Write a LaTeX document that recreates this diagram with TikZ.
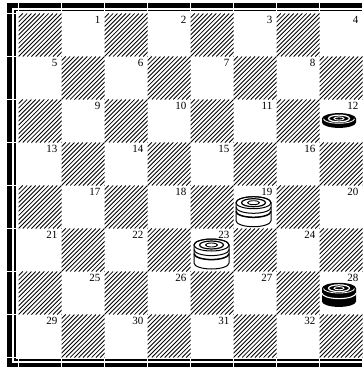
\documentclass[tikz,border=0pt]{standalone}
\usepackage{fontspec}
\setmainfont{Liberation Serif}
\tikzset{
  hatch/.style={line width=0.85pt,black},
  lbl/.style={anchor=north east,inner sep=0pt,font=\fontsize{11}{11}\selectfont},
  tick/.style={white,line width=0.6pt},
}
% white king: #1 = x, #2 = y of top face centre
\newcommand\wkingpiece[2]{%
  \begin{scope}[shift={(#1,#2)}]
    \filldraw[fill=white,draw=black,line width=1pt]
      (-17.5,0) -- (-17.5,18) arc[start angle=180,end angle=0,x radius=17.5,y radius=6]
      -- (17.5,0) arc[start angle=0,end angle=-180,x radius=17.5,y radius=6] -- cycle;
    \draw[line width=1pt] (0,0) ellipse[x radius=17.5,y radius=6];
    \draw[line width=1.2pt] (0,0) ellipse[x radius=12,y radius=4];
    \draw[line width=0.9pt] (0,0) ellipse[x radius=6,y radius=2];
    \draw[line width=1pt] (-17.5,4.6) arc[start angle=180,end angle=0,x radius=17.5,y radius=6];
    \draw[line width=1.5pt] (-17.5,8.6) arc[start angle=180,end angle=0,x radius=17.5,y radius=6];
  \end{scope}}
% black piece: #1 = x, #2 = y, #3 = side height, #4 = king (1) or not (0)
\newcommand\bpiece[4]{%
  \begin{scope}[shift={(#1,#2)}]
    \fill[black]
      (-17,0) -- (-17,#3) arc[start angle=180,end angle=0,x radius=17,y radius=5.4]
      -- (17,0) arc[start angle=0,end angle=-180,x radius=17,y radius=5.4] -- cycle;
    \draw[white,line width=0.8pt] (-15.5,0.3) arc[start angle=180,end angle=0,x radius=15.5,y radius=4.5];
    \draw[white,line width=1.2pt] (0,0) ellipse[x radius=10.5,y radius=3.4];
    \draw[white,line width=0.9pt] (0,0) ellipse[x radius=5,y radius=1.6];
    \ifnum#4=1
      \draw[white,line width=1.1pt] (-17,5) arc[start angle=180,end angle=0,x radius=17,y radius=5.4];
    \fi
  \end{scope}}
\begin{document}
\begin{tikzpicture}[x=1pt,y=-1pt]
\useasboundingbox (0,0) rectangle (363,367);
\fill[white] (0,0) rectangle (363,367);
% dark squares
\foreach \r in {0,...,7}{
  \foreach \c in {0,...,7}{
    \pgfmathtruncatemacro\isdark{1-mod(\r+\c,2)}
    \pgfmathsetmacro\xa{18.5+43*\c}
    \pgfmathsetmacro\ya{13.5+43*\r}
    \ifnum\isdark=1
      \begin{scope}
        \clip (\xa,\ya) rectangle ++(43,43);
        \foreach \d in {-10,...,10}
          \draw[hatch] (\xa+\d*4.3,\ya+43) -- ++(43,-43);
      \end{scope}
    \fi
  }
}
% frame
\draw[line width=5pt,line join=miter] (363,5.5) -- (9.5,5.5) -- (9.5,365) -- (363,365);
\draw[line width=1.2pt,line join=miter] (363,10.8) -- (15,10.8) -- (15,360) -- (363,360);
\foreach \k in {0,...,8}{
  \draw[tick] (5,13.5+43*\k) -- (17.5,13.5+43*\k);
  \draw[tick] (18.5+43*\k,2) -- (18.5+43*\k,12);
  \draw[tick] (18.5+43*\k,358.5) -- (18.5+43*\k,368);
}
% pieces
\bpiece{339}{118.5}{4}{0}
\bpiece{339}{288.2}{13.3}{1}
\wkingpiece{253.5}{202.7}
\wkingpiece{211.5}{245}
% square numbers
\foreach \r in {0,...,7}{
  \foreach \c in {0,...,7}{
    \pgfmathtruncatemacro\isdark{1-mod(\r+\c,2)}
    \pgfmathsetmacro\xa{18.5+43*\c}
    \pgfmathsetmacro\ya{13.5+43*\r}
    \ifnum\isdark=0
      \pgfmathtruncatemacro\num{4*\r+floor(\c/2)+1}
      \node[lbl] (sq\num) at (\xa+39,\ya+2.5) {\num};
    \fi
  }
}
\end{tikzpicture}
\end{document}
